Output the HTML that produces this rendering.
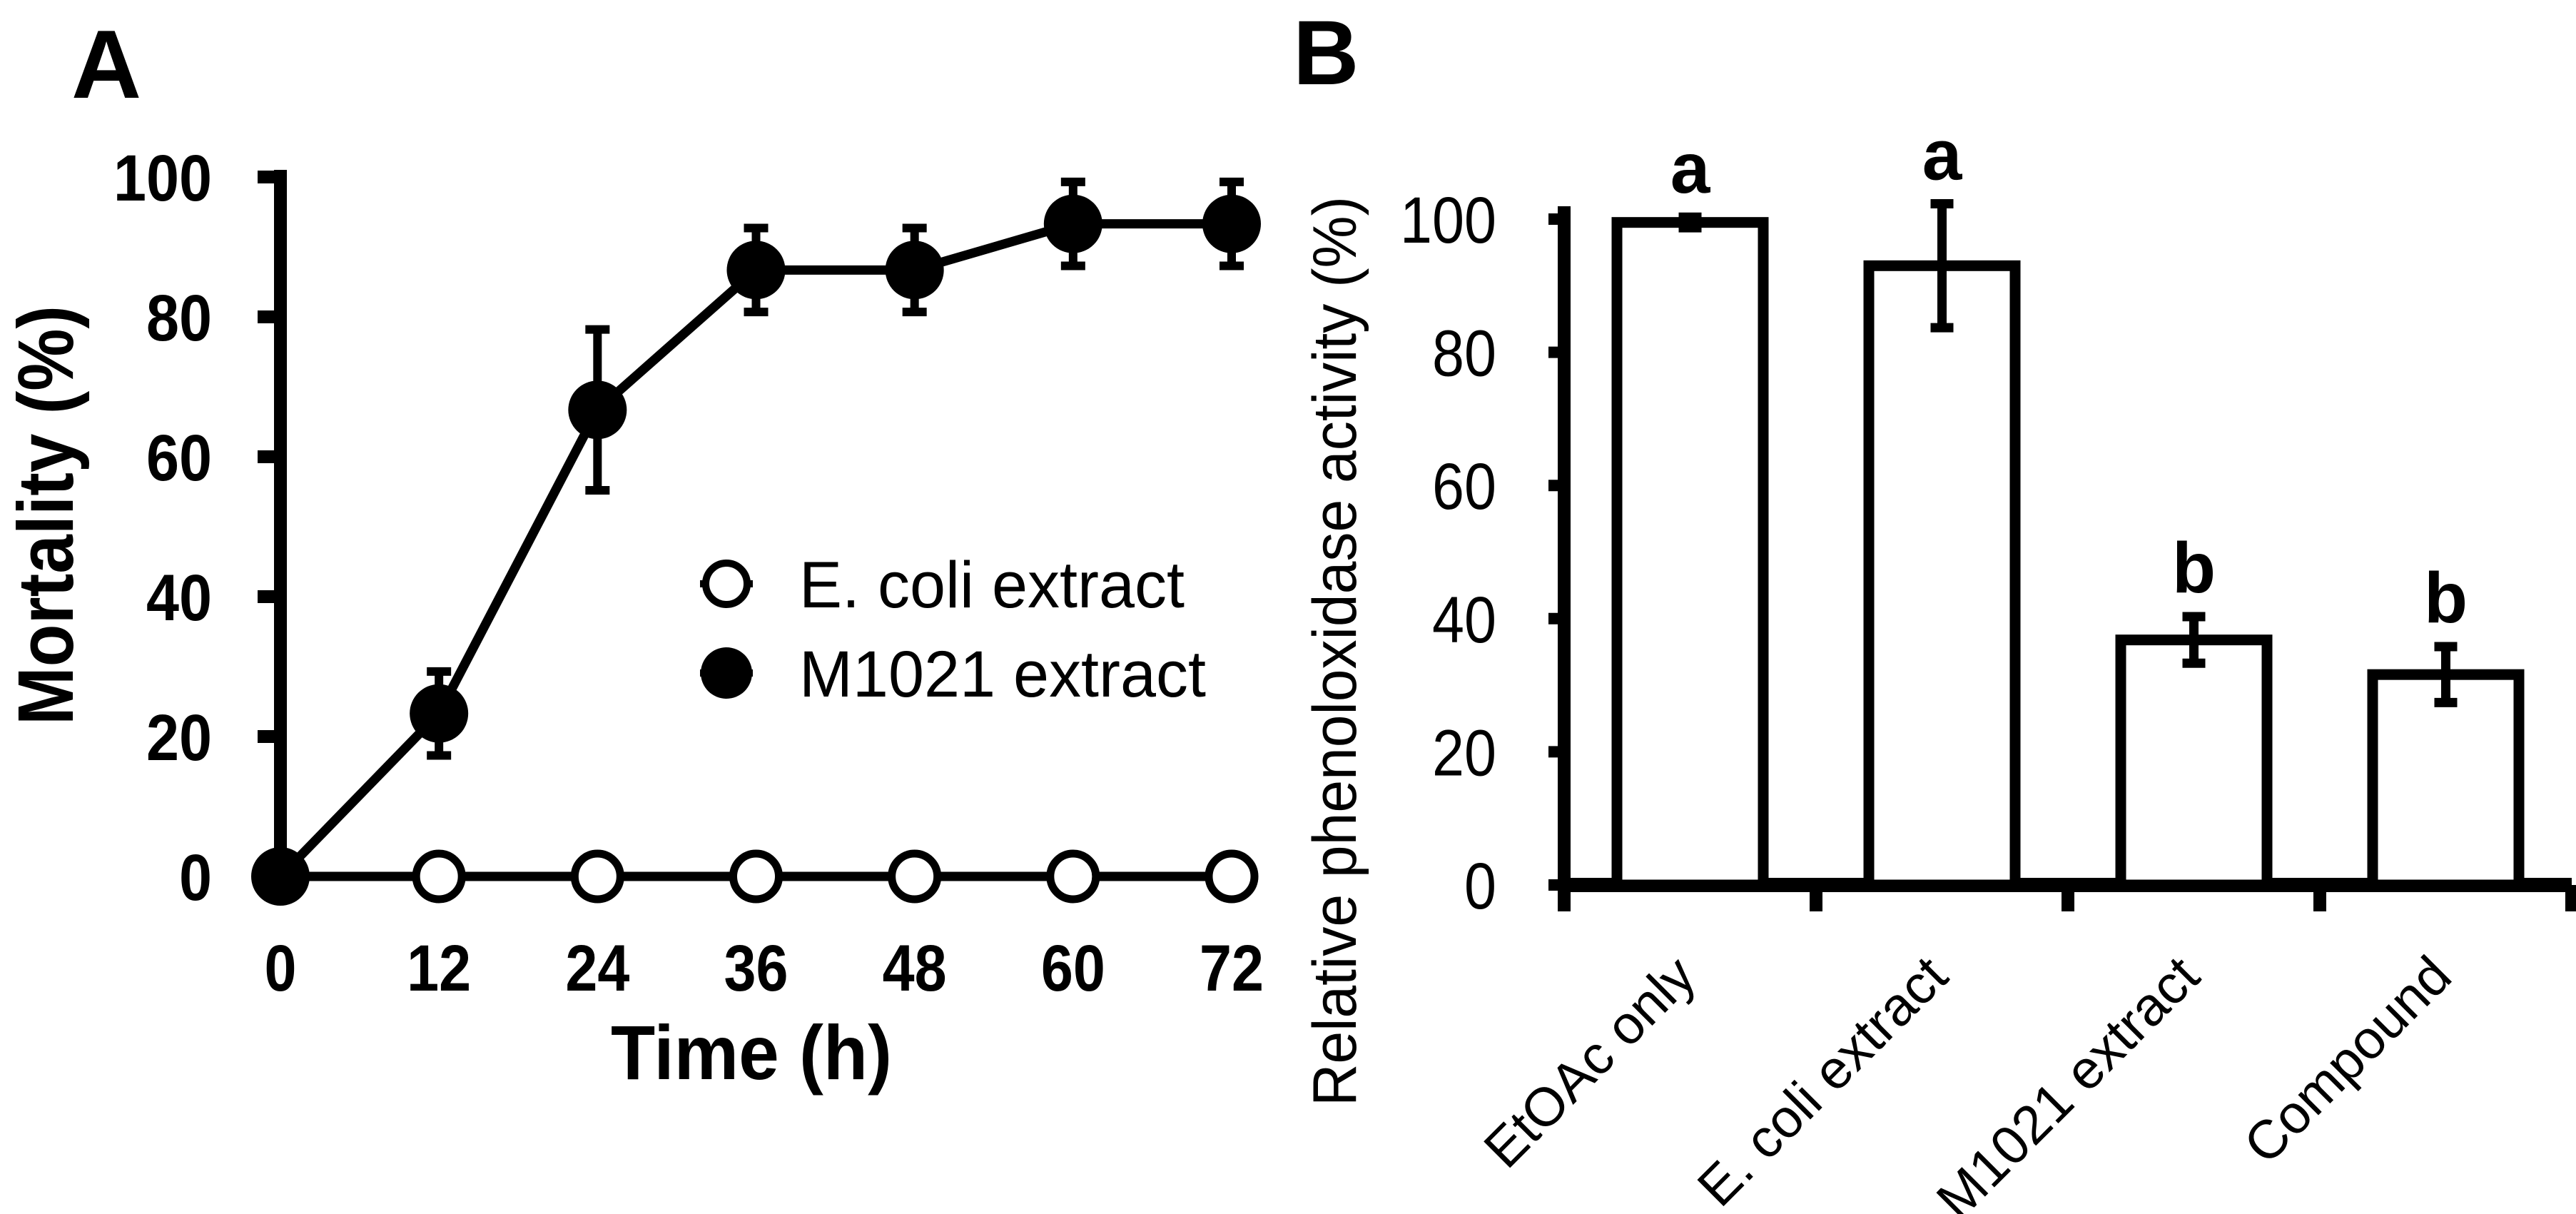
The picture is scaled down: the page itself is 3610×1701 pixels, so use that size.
<!DOCTYPE html>
<html><head><meta charset="utf-8"><style>
html,body{margin:0;padding:0;background:#fff;overflow:hidden;}
svg{display:block;font-family:"Liberation Sans",Arial,sans-serif;}
</style></head><body>
<svg id="fig" width="3610" height="1701" viewBox="0 0 3610 1701" xmlns="http://www.w3.org/2000/svg">
<text x="100" y="137" font-size="136" font-weight="bold">A</text>
<text x="1812" y="118" font-size="128" font-weight="bold">B</text>
<g id="A"></g>
<g id="B"></g>
</svg>
<script>
const timeCats = [0,12,24,36,48,60,72];
const ecoliVals = [0,0,0,0,0,0,0];
const m1021Vals = [0,23.3,66.7,86.7,86.7,93.3,93.3];
const m1021Err = [0,6,11.5,6,6,6,6];
const yTicksA = [0,20,40,60,80,100];

const barCats = ["EtOAc only","E. coli extract","M1021 extract","Compound"];
const barVals = [99.5,93,36.8,31.6];
const barErr = [0.8,9.3,3.5,4.2];
const barLetters = ["a","a","b","b"];
const yTicksB = [0,20,40,60,80,100];

const NS="http://www.w3.org/2000/svg";
function mk(parent,tag,attrs,text){const e=document.createElementNS(NS,tag);for(const k in attrs)e.setAttribute(k,attrs[k]);if(text!==undefined)e.textContent=text;parent.appendChild(e);return e;}

// Panel A
const A=document.getElementById('A');
const xA=v=>393+(v/72)*(1726-393);
const yA=v=>1228-(v/100)*(1228-248);
let e;
e=mk(A,'line',{x1:393,y1:238,x2:393,y2:yA(0),stroke:'#000','stroke-width':18});


yTicksA.forEach(t=>{
  e=mk(A,'line',{x1:361,y1:yA(t),x2:400,y2:yA(t),stroke:'#000','stroke-width':18});
  
  
  const s=String(t);
  e=mk(A,'text',{x:297,y:yA(t)+33,'text-anchor':'end','font-size':92,'font-weight':'bold',textLength:46*s.length,lengthAdjust:'spacingAndGlyphs'},s);
  
  
});
timeCats.forEach(t=>{
  const s=String(t);
  e=mk(A,'text',{x:xA(t),y:1388,'text-anchor':'middle','font-size':92,'font-weight':'bold',textLength:45*s.length,lengthAdjust:'spacingAndGlyphs'},s);
  
  
});
e=mk(A,'text',{x:1053,y:1512,'text-anchor':'middle','font-size':108,'font-weight':'bold',textLength:394,lengthAdjust:'spacingAndGlyphs'},'Time (h)');


e=mk(A,'text',{x:0,y:0,'text-anchor':'middle','font-size':110,'font-weight':'bold',textLength:588,lengthAdjust:'spacingAndGlyphs',transform:'translate(102,722) rotate(-90)'},'Mortality (%)');


e=mk(A,'polyline',{points:timeCats.map((t,i)=>xA(t)+','+yA(ecoliVals[i])).join(' '),fill:'none',stroke:'#000','stroke-width':13});


e=mk(A,'polyline',{points:timeCats.map((t,i)=>xA(t)+','+yA(m1021Vals[i])).join(' '),fill:'none',stroke:'#000','stroke-width':13});


timeCats.forEach((t,i)=>{
  if(m1021Err[i]>0){
    const x=xA(t),y1=yA(m1021Vals[i]+m1021Err[i]),y2=yA(m1021Vals[i]-m1021Err[i]);
    e=mk(A,'path',{d:`M${x},${y1}V${y2}M${x-17},${y1}H${x+17}M${x-17},${y2}H${x+17}`,stroke:'#000','stroke-width':12,fill:'none'});
    
    
  }
});
timeCats.forEach((t,i)=>{
  e=mk(A,'circle',{cx:xA(t),cy:yA(ecoliVals[i]),r:32,fill:'#fff',stroke:'#000','stroke-width':11});
  
  
});
timeCats.forEach((t,i)=>{
  e=mk(A,'circle',{cx:xA(t),cy:yA(m1021Vals[i]),r:41,fill:'#000'});
  
  
});
[[818,'E. coli extract',false,540],[943,'M1021 extract',true,570]].forEach(([ly,l,f,len])=>{
  e=mk(A,'line',{x1:981,y1:ly,x2:1055,y2:ly,stroke:'#000','stroke-width':10});
  
  
  e=mk(A,'circle',{cx:1018,cy:ly,r:f?36:29,fill:f?'#000':'#fff',stroke:'#000','stroke-width':f?0:10});
  
  
  e=mk(A,'text',{x:1120,y:ly+33,'font-size':92,textLength:len,lengthAdjust:'spacingAndGlyphs'},l);
  
  
});

// Panel B
const B=document.getElementById('B');
const x0=2192,catW=(3604-2192)/4;
const yB=v=>1240-(v/100)*(1240-307);
e=mk(B,'line',{x1:x0,y1:289,x2:x0,y2:1277,stroke:'#000','stroke-width':18});


e=mk(B,'line',{x1:x0,y1:1240,x2:3604,y2:1240,stroke:'#000','stroke-width':20});


for(let i=0;i<=barCats.length;i++){
  e=mk(B,'line',{x1:x0+i*catW,y1:1240,x2:x0+i*catW,y2:1277,stroke:'#000','stroke-width':18});
  
  
}
yTicksB.forEach(t=>{
  e=mk(B,'line',{x1:x0-22,y1:yB(t),x2:x0+9,y2:yB(t),stroke:'#000','stroke-width':16});
  
  
  const s=String(t);
  e=mk(B,'text',{x:2097,y:yB(t)+33,'text-anchor':'end','font-size':92,textLength:45*s.length,lengthAdjust:'spacingAndGlyphs'},s);
  
  
});
e=mk(B,'text',{x:0,y:0,'text-anchor':'start','font-size':86,textLength:1275,lengthAdjust:'spacingAndGlyphs',transform:'translate(1900,1550) rotate(-90)'},'Relative phenoloxidase activity (%)');


barCats.forEach((c,i)=>{
  const cx=x0+catW*(i+0.5),w=205;
  e=mk(B,'rect',{x:cx-w/2,y:yB(barVals[i]),width:w,height:yB(0)-yB(barVals[i]),fill:'#fff',stroke:'#000','stroke-width':15});
  
  
  const y1=yB(barVals[i]+barErr[i]),y2=yB(barVals[i]-barErr[i]);
  e=mk(B,'path',{d:`M${cx},${y1}V${y2}M${cx-16},${y1}H${cx+16}M${cx-16},${y2}H${cx+16}`,stroke:'#000','stroke-width':13,fill:'none'});
  
  
  e=mk(B,'text',{x:cx,y:y1-34,'text-anchor':'middle','font-size':100,'font-weight':'bold'},barLetters[i]);
  
  
  e=mk(B,'text',{x:0,y:0,'text-anchor':'end','font-size':76,transform:`translate(${cx+12},1372) rotate(-45)`},c);
  
  
});
</script>
</body></html>
